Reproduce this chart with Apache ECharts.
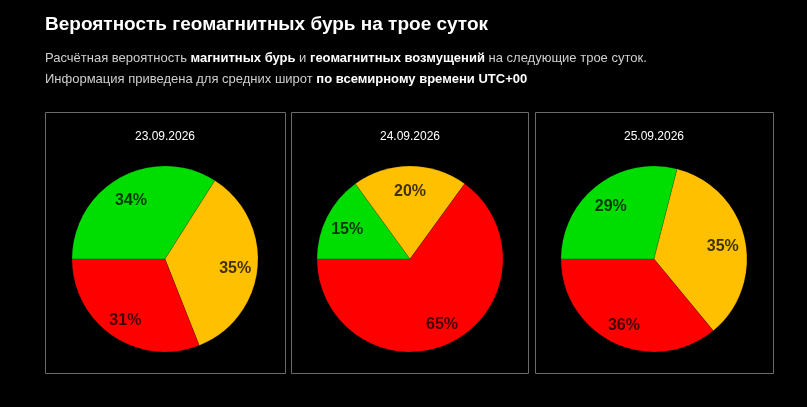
<!DOCTYPE html>
<html>
<head>
<meta charset="utf-8">
<script src="https://cdn.jsdelivr.net/npm/echarts@6/dist/echarts.min.js"></script>
<style>
  html, body { margin: 0; padding: 0; background: #000; }
  #chart { width: 807px; height: 407px; }
</style>
</head>
<body>
<div id="chart"></div>
<script>
  // Data
  const dates = ['23.09.2026', '24.09.2026', '25.09.2026'];
  const categories = ['Спокойно', 'Возмущения', 'Буря'];
  const quietValues = [34, 15, 29];
  const disturbValues = [35, 20, 35];
  const stormValues = [31, 65, 36];

  const sliceColors = ['#00dd00', '#ffc000', '#ff0000'];
  const font = "'Liberation Sans', Arial, sans-serif";

  const centersX = [165, 410, 654];
  const boxes = [
    { x: 45.5, w: 240 },
    { x: 291.5, w: 237 },
    { x: 535.5, w: 238 }
  ];

  const chart = echarts.init(document.getElementById('chart'));

  const pieData = (i) => categories.map((name, k) => ({
    name: name,
    value: [quietValues, disturbValues, stormValues][k][i],
    itemStyle: { color: sliceColors[k] }
  }));

  const series = [];
  dates.forEach((d, i) => {
    // slices
    series.push({
      type: 'pie',
      center: [centersX[i], 259],
      radius: [0, 93],
      startAngle: 180,
      clockwise: true,
      silent: true,
      label: { show: false },
      labelLine: { show: false },
      itemStyle: { borderColor: 'rgba(0,0,0,0.15)', borderWidth: 1 },
      data: pieData(i)
    });
    // labels, pushed out towards the rim
    series.push({
      type: 'pie',
      center: [centersX[i], 259],
      radius: [42, 93],
      startAngle: 180,
      clockwise: true,
      silent: true,
      itemStyle: { color: 'rgba(0,0,0,0)' },
      label: {
        show: true,
        position: 'inside',
        formatter: '{c}%',
        offset: [0, 3],
        fontFamily: font,
        fontSize: 16,
        fontWeight: 'bold',
        color: 'rgba(0,0,0,0.75)'
      },
      labelLine: { show: false },
      data: pieData(i).map(p => ({ name: p.name, value: p.value }))
    });
  });

  const titles = [
    {
      text: 'Вероятность геомагнитных бурь на трое суток',
      left: 40,
      top: 10,
      textStyle: { color: '#fff', fontSize: 19, fontWeight: 'bold', fontFamily: font }
    },
    {
      text: '{n|Расчётная вероятность }{b|магнитных бурь}{n| и }{b|геомагнитных возмущений}{n| на следующие трое суток.}\n' +
            '{n|Информация приведена для средних широт }{b|по всемирному времени UTC+00}',
      left: 40,
      top: 43,
      textStyle: {
        rich: {
          n: { color: '#cfcfcf', fontSize: 13, fontWeight: 'normal', fontFamily: font, lineHeight: 21 },
          b: { color: '#fff', fontSize: 13, fontWeight: 'bold', fontFamily: font, lineHeight: 21 }
        }
      }
    }
  ];

  const boxGraphics = boxes.map(b => ({
    type: 'rect',
    shape: { x: b.x, y: 112.5, width: b.w, height: 261 },
    style: { fill: 'none', stroke: '#6a6a6a', lineWidth: 1 },
    silent: true
  }));
  const dateGraphics = dates.map((d, i) => ({
    type: 'text',
    x: centersX[i],
    y: 137,
    silent: true,
    style: {
      text: d,
      fill: '#fff',
      fontSize: 12,
      fontFamily: font,
      textAlign: 'center',
      textVerticalAlign: 'middle'
    }
  }));

  chart.setOption({
    backgroundColor: '#000',
    animation: false,
    title: titles,
    graphic: boxGraphics.concat(dateGraphics),
    series: series
  });
</script>
</body>
</html>
